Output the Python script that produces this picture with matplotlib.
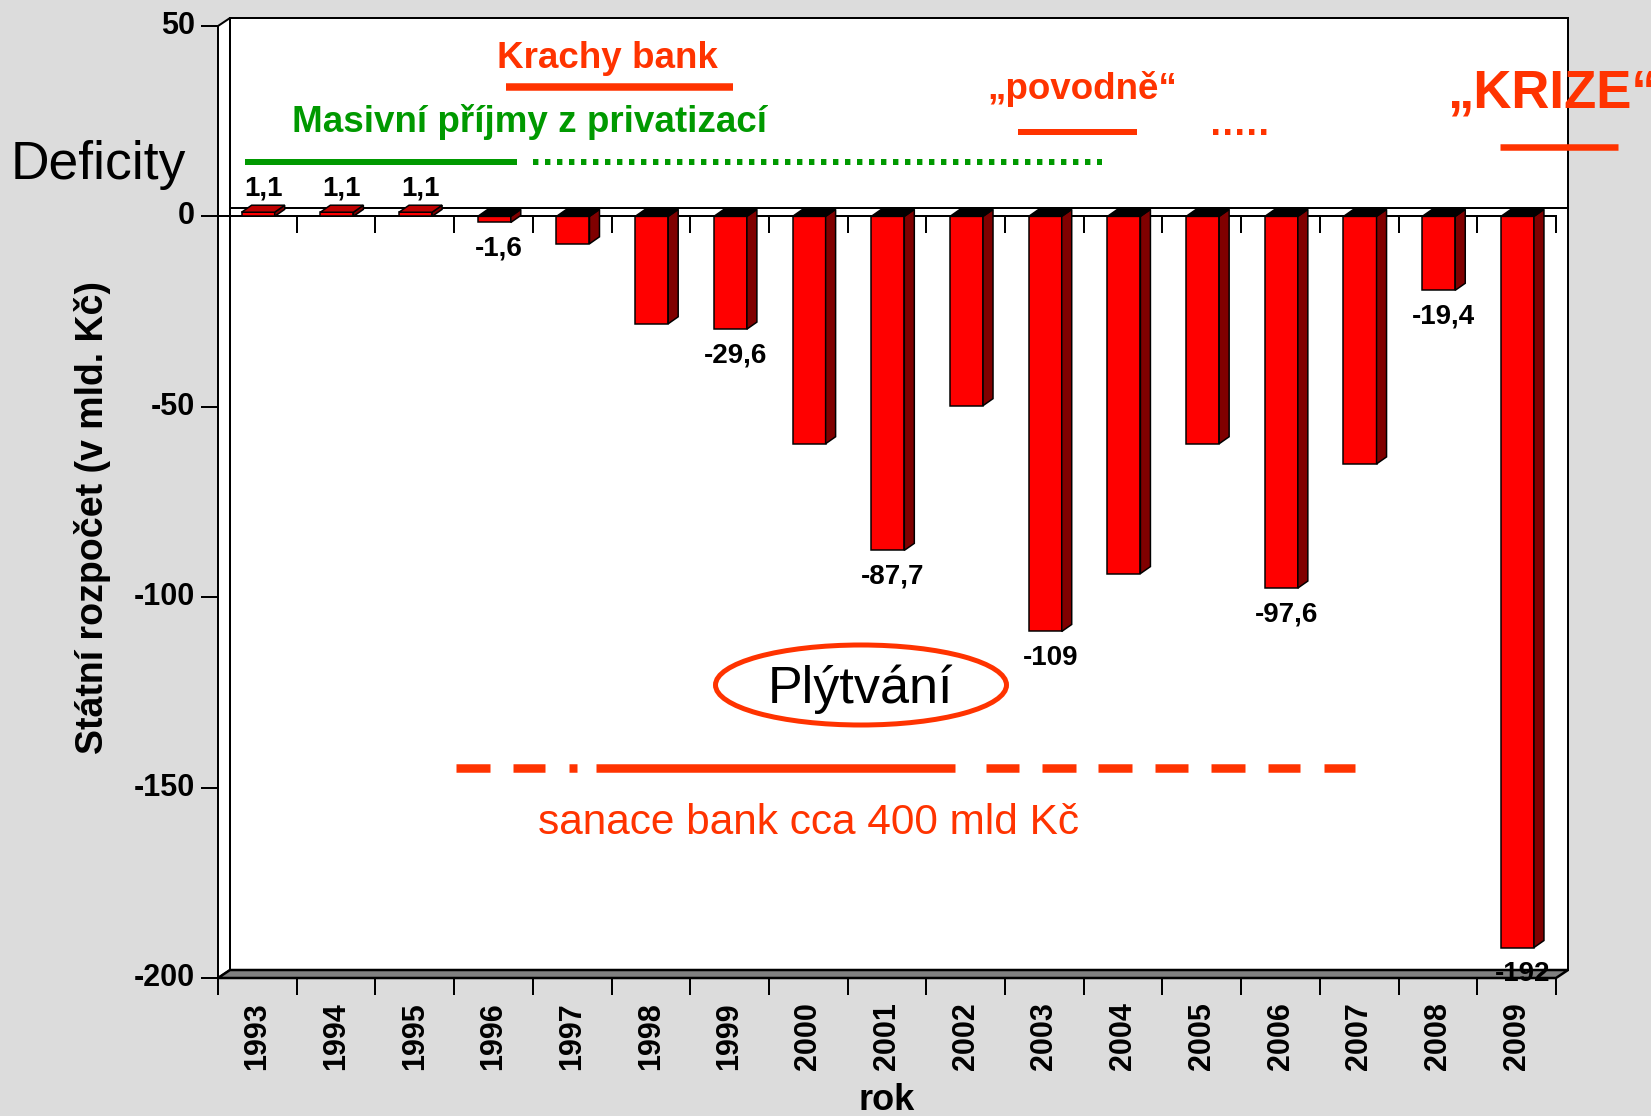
import matplotlib.pyplot as plt
from matplotlib.patches import Polygon, Ellipse

plt.rcParams['font.family'] = ['Liberation Sans', 'DejaVu Sans']

# state budget balance, bn CZK
years = [str(y) for y in range(1993, 2010)]
balance = [1.1, 1.1, 1.1, -1.6, -7.2, -28.2, -29.6, -59.7, -87.7, -49.7,
           -109, -93.8, -59.7, -97.6, -65.0, -19.4, -192]
labeled = ['1993', '1994', '1995', '1996', '1999', '2001', '2003',
           '2006', '2008', '2009']
yticks = [50, 0, -50, -100, -150, -200]

RED = '#FF3300'
GREEN = '#009900'
W, H = 1651, 1116
PT = 0.72  # points per pixel at dpi 100

fig = plt.figure(figsize=(W / 100, H / 100), dpi=100, facecolor='#DCDCDC')
ax = fig.add_axes([218 / W, 1 - 978 / H, 1338 / W, 952 / H])
n = len(years)
ymin, ymax = -200, 50
ax.set_xlim(0, n)
ax.set_ylim(ymin, ymax)
ax.axis('off')

ux = 1338 / n          # px per category
uy = 952 / (ymax - ymin)  # px per unit
wdx, wdy = 12 / ux, 8 / uy   # wall depth
bdx, bdy = 10 / ux, 7 / uy   # bar depth
bw, boff = 0.42, 0.30
elw = 1.5 * PT

# back wall, left wall, floor
ax.add_patch(Polygon([(wdx, ymin + wdy), (n + wdx, ymin + wdy), (n + wdx, ymax + wdy),
                      (wdx, ymax + wdy)], fc='white', ec='black', lw=2 * PT,
                     zorder=1, clip_on=False))
ax.add_patch(Polygon([(0, ymin), (wdx, ymin + wdy), (wdx, ymax + wdy), (0, ymax)],
                     fc='white', ec='black', lw=2 * PT, zorder=1, clip_on=False))
ax.add_patch(Polygon([(0, ymin), (n, ymin), (n + wdx, ymin + wdy), (wdx, ymin + wdy)],
                     fc='#808080', ec='black', lw=2.5 * PT, zorder=1, clip_on=False))

# zero lines (back and front) with ticks
ax.plot([wdx, n + wdx], [wdy, wdy], color='black', lw=2 * PT, zorder=2, clip_on=False)
ax.plot([0, n], [0, 0], color='black', lw=2 * PT, zorder=2, clip_on=False)
for k in range(n + 1):
    ax.plot([k, k], [0, -16 / uy], color='black', lw=2 * PT, zorder=2, clip_on=False)
    ax.plot([k, k], [ymin, ymin - 16 / uy], color='black', lw=2 * PT, zorder=2,
            clip_on=False)

# y axis
ax.plot([0, 0], [ymin, ymax], color='black', lw=2 * PT, zorder=2, clip_on=False)
for t in yticks:
    ax.plot([-16 / ux, 0], [t, t], color='black', lw=2 * PT, clip_on=False)
    ax.text(-23 / ux, t, str(t), ha='right', va='center', fontsize=22,
            fontweight='bold')

# 3D bars
for i, (yr, v) in enumerate(zip(years, balance)):
    x0 = i + boff
    x1 = x0 + bw
    top = max(v, 0)
    ax.add_patch(Polygon([(x0, 0), (x1, 0), (x1, v), (x0, v)], fc='#FF0000',
                         ec='black', lw=elw, zorder=3, clip_on=False))
    ax.add_patch(Polygon([(x1, 0), (x1 + bdx, bdy), (x1 + bdx, v + bdy), (x1, v)],
                         fc='#800000', ec='black', lw=elw, zorder=3, clip_on=False))
    ax.add_patch(Polygon([(x0, top), (x1, top), (x1 + bdx, top + bdy), (x0 + bdx, top + bdy)],
                         fc='black' if v < 0 else '#C00000', ec='black', lw=elw,
                         zorder=3, clip_on=False))
    if yr in labeled:
        off = 17 if v > 0 else -19
        ax.annotate(f'{v:g}'.replace('.', ','), (x0 + (bw + bdx) / 2, v),
                    xytext=(0, off), textcoords='offset points', ha='center',
                    va='center', fontsize=20, fontweight='bold', zorder=4)
    ax.text(i + 0.5, ymin - 24 / uy, yr, rotation=90, ha='center', va='top',
            fontsize=22, fontweight='bold')

ax.text(n / 2, ymin - 122 / uy, 'rok', ha='center', va='center', fontsize=26,
        fontweight='bold')

# annotations in pixel space
ov = fig.add_axes([0, 0, 1, 1], zorder=5)
ov.set_xlim(0, W)
ov.set_ylim(H, 0)
ov.axis('off')

ov.text(93, 518, 'Státní rozpočet (v mld. Kč)', rotation=90, ha='center',
        va='center', fontsize=27, fontweight='bold')
ov.text(98, 179, 'Deficity', ha='center', va='baseline', fontsize=38.5)

ov.text(607, 68, 'Krachy bank', ha='center', va='baseline', fontsize=26.5,
        fontweight='bold', color=RED)
ov.plot([506, 733], [87, 87], color=RED, lw=7.5 * PT, solid_capstyle='butt')

ov.text(529, 132, 'Masivní příjmy z privatizací', ha='center', va='baseline',
        fontsize=26.5, fontweight='bold', color=GREEN)
ov.plot([245, 517], [162, 162], color=GREEN, lw=6 * PT, solid_capstyle='butt')
ov.plot([533, 1102], [162, 162], color=GREEN, lw=6 * PT, ls=(0, (0.9, 1.1)))

ov.text(1082, 99, '„povodně“', ha='center', va='baseline', fontsize=26.5,
        fontweight='bold', color=RED)
ov.plot([1018, 1137], [132, 132], color=RED, lw=6 * PT, solid_capstyle='butt')
ov.plot([1213, 1273], [132, 132], color=RED, lw=6 * PT, ls=(0, (0.9, 1.1)))

ov.text(1447, 108, '„KRIZE“', ha='left', va='baseline', fontsize=38,
        fontweight='bold', color=RED)
ov.plot([1500, 1618], [147, 147], color=RED, lw=6.5 * PT, solid_capstyle='butt')

ov.add_patch(Ellipse((861, 685), 291, 80, fill=False, ec=RED, lw=5 * PT))
ov.text(861, 703, 'Plýtvání', ha='center', va='baseline', fontsize=37.5)

segments = [(456, 490), (513, 545), (569, 577), (596, 955), (986, 1019),
            (1042, 1076), (1098, 1132), (1155, 1188), (1211, 1245),
            (1268, 1300), (1324, 1355)]
for a, b in segments:
    ov.plot([a, b], [768, 768], color=RED, lw=8.5 * PT, solid_capstyle='butt')
ov.text(809, 834, 'sanace bank cca 400 mld Kč', ha='center', va='baseline',
        fontsize=30.5, color=RED)

fig.savefig('out.png', dpi=100, facecolor=fig.get_facecolor())
